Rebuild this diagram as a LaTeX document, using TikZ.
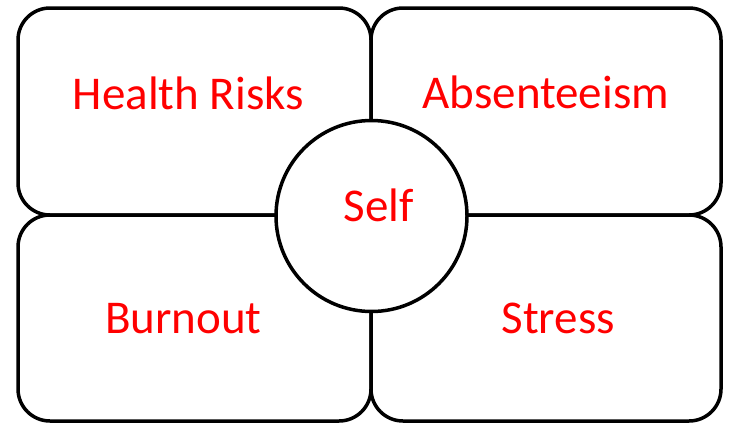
\documentclass[tikz,border=0pt]{standalone}
\usepackage{fontspec}
\setmainfont{Carlito}
\begin{document}
\begin{tikzpicture}[x=1pt,y=-1pt,
  quad/.style={draw=black,line width=3.5pt,rounded corners=32pt},
  hub/.style={circle,draw=black,fill=white,line width=3.5pt,minimum size=191pt,inner sep=0pt},
  label/.style={text=red,anchor=base,inner sep=0pt,font=\fontsize{47}{56}\selectfont}]
  \useasboundingbox (0,0) rectangle (730,423);
  % four quadrants
  \draw[quad] (18,8) rectangle (371,215);
  \draw[quad] (371,8) rectangle (721,215);
  \draw[quad] (18,215) rectangle (371,421);
  \draw[quad] (371,215) rectangle (721,421);
  % central circle
  \node[hub] (self) at (371.5,216) {};
  % texts
  \node[label] (health) at (188.4,109) {Health Risks};
  \node[label] (absent) at (545.8,108.5) {Absenteeism};
  \node[label] (burn) at (183.3,333.3) {Burnout};
  \node[label] (stress) at (558.3,333) {Stress};
  \node[label] (selftxt) at (379,221.7) {Self};
\end{tikzpicture}
\end{document}
